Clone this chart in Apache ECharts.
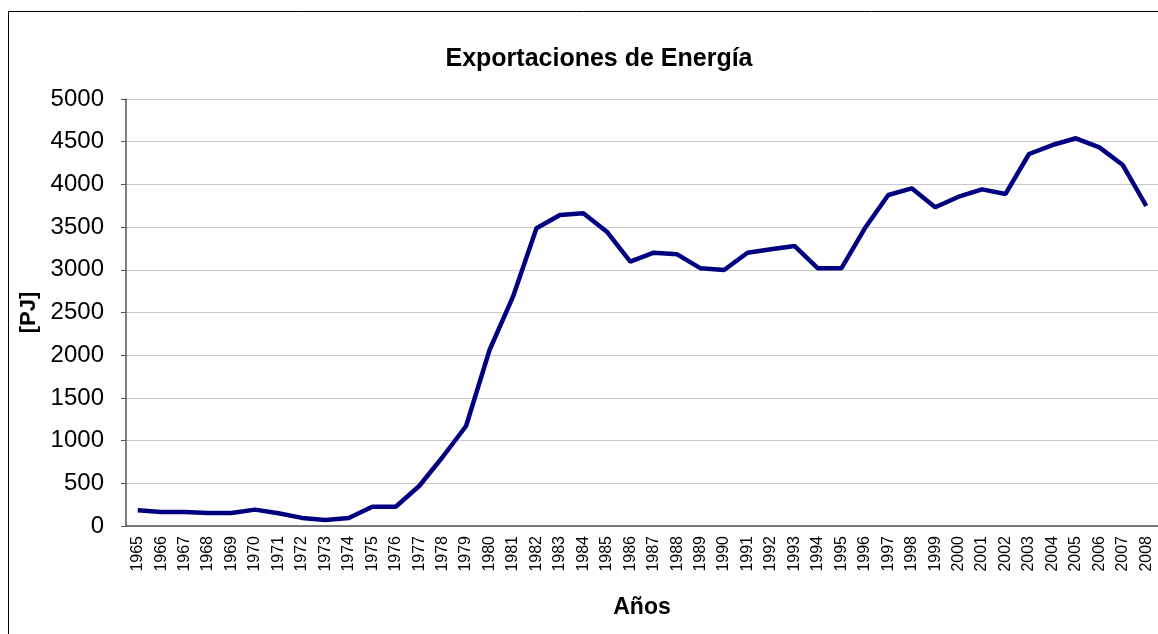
<!DOCTYPE html>
<html>
<head>
<meta charset="utf-8">
<script src="https://cdn.jsdelivr.net/npm/echarts@6/dist/echarts.min.js"></script>
<style>
  html, body { margin: 0; padding: 0; background: #fff; }
  #chart { width: 1158px; height: 634px; }
</style>
</head>
<body>
<div id="chart"></div>
<script>
// años
const years = ['1965','1966','1967','1968','1969','1970','1971','1972','1973','1974',
  '1975','1976','1977','1978','1979','1980','1981','1982','1983','1984',
  '1985','1986','1987','1988','1989','1990','1991','1992','1993','1994',
  '1995','1996','1997','1998','1999','2000','2001','2002','2003','2004',
  '2005','2006','2007','2008'];

// exportaciones [PJ]
const exportaciones = [185, 165, 165, 152, 152, 192, 150, 95, 70, 94,
  226, 226, 468, 808, 1171, 2061, 2685, 3486, 3642, 3661,
  3446, 3095, 3200, 3181, 3017, 2998, 3200, 3240, 3279, 3017,
  3017, 3486, 3876, 3954, 3732, 3856, 3942, 3888, 4356, 4461,
  4540, 4434, 4227, 3747];

const chart = echarts.init(document.getElementById('chart'));

chart.setOption({
  backgroundColor: '#fff',
  animation: false,
  title: {
    text: 'Exportaciones de Energía',
    left: 594,
    textAlign: 'center',
    top: 42,
    textStyle: { fontFamily: 'Liberation Sans', fontSize: 25, fontWeight: 'bold', color: '#000' }
  },
  // marco exterior
  graphic: [{
    type: 'rect',
    shape: { x: 8.5, y: 11.5, width: 1200, height: 700 },
    style: { fill: 'none', stroke: '#000', lineWidth: 1 },
    silent: true
  }],
  grid: { left: 126, right: 0, top: 99, bottom: 108 },
  xAxis: {
    type: 'category',
    data: years,
    boundaryGap: true,
    name: 'Años',
    nameLocation: 'middle',
    nameGap: 70,
    nameTextStyle: { fontFamily: 'Liberation Sans', fontSize: 23, fontWeight: 'bold', color: '#000' },
    axisLine: { lineStyle: { color: '#555', width: 1.5 } },
    axisTick: { alignWithLabel: false, length: 5, lineStyle: { color: '#555' } },
    axisLabel: {
      rotate: 90,
      interval: 0,
      fontFamily: 'Liberation Sans',
      fontSize: 16,
      color: '#000',
      margin: 10
    }
  },
  yAxis: {
    type: 'value',
    min: 0,
    max: 5000,
    interval: 500,
    name: '[PJ]',
    nameLocation: 'middle',
    nameGap: 84,
    nameRotate: 90,
    nameTextStyle: { fontFamily: 'Liberation Sans', fontSize: 22, fontWeight: 'bold', color: '#000' },
    axisLine: { show: true, lineStyle: { color: '#555', width: 1.5 } },
    axisTick: { show: true, length: 5, lineStyle: { color: '#555' } },
    axisLabel: {
      fontFamily: 'Liberation Sans', fontSize: 24, color: '#000', margin: 22,
      formatter: function (v) { return String(v); }
    },
    splitLine: { lineStyle: { color: '#c8c8c8', width: 1 } }
  },
  series: [{
    type: 'line',
    data: exportaciones,
    symbol: 'none',
    lineStyle: { color: '#000080', width: 4.5 },
    itemStyle: { color: '#000080' }
  }]
});
</script>
</body>
</html>
